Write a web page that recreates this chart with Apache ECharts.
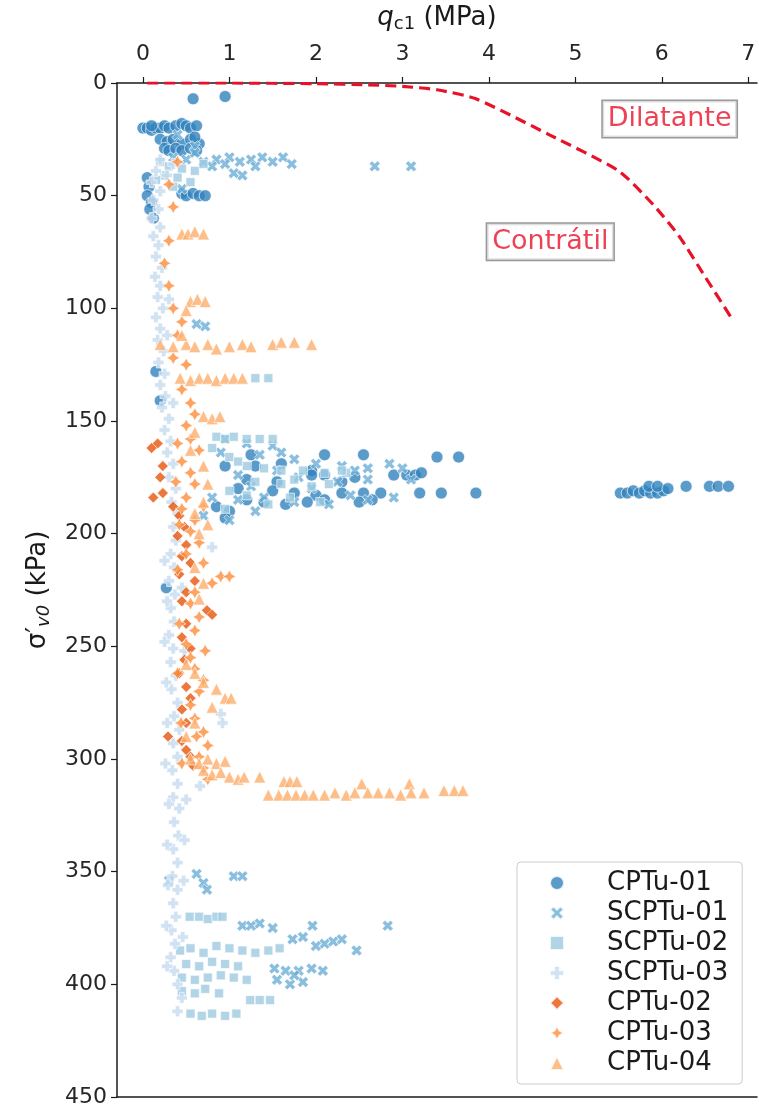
<html>
<meta charset="utf-8">
<head>
<script src="https://cdn.jsdelivr.net/npm/echarts@6/dist/echarts.min.js"></script>
<style>
  html, body { margin: 0; padding: 0; background: #fff; }
  #main { width: 759px; height: 1109px; }
</style>
</head>
<body>
<div id="main"></div>
<script type="text/javascript">
// nomes das sondagens (ordem da legenda)
var names = ['CPTu-01', 'SCPTu-01', 'SCPTu-02', 'SCPTu-03', 'CPTu-02', 'CPTu-03', 'CPTu-04'];
var colors = ['#3182bd', '#6baed6', '#9ecae1', '#c6dbef', '#e6550d', '#fd8d3c', '#fdae6b'];
var xTicks = [0, 1, 2, 3, 4, 5, 6, 7];

// [qc1 (MPa), sigma'v0 (kPa)]
var cptu01 = [
  [0.58,7],[0.95,6],
  [0.0,20],[0.05,20],[0.1,21],[0.15,20],[0.2,20],[0.25,19],[0.3,20],[0.38,19],[0.45,18],[0.5,19],[0.55,20],[0.62,19],[0.1,19],
  [0.2,25],[0.28,26],[0.35,25],[0.45,27],[0.55,25],[0.65,27],[0.6,24],
  [0.25,29],[0.3,30],[0.38,29],[0.45,30],[0.55,29],[0.62,30],
  [0.05,42],[0.07,46],[0.05,50],[0.1,53],[0.08,56],[0.12,60],
  [0.45,49],[0.5,50],[0.58,49],[0.65,50],[0.72,50],
  [0.15,128],[0.2,141],[0.27,224],
  [1.25,165],[2.1,165],[2.55,165],[3.4,166],[3.65,166],
  [0.95,170],[1.3,170],[1.6,169],[1.95,172],
  [1.95,174],[2.1,174],[2.45,175],[2.9,174],[3.05,174],[3.15,174],[3.22,173],[1.2,176],[1.55,177],[2.3,177],
  [1.5,181],[1.75,182],[2.0,183],[2.3,182],[2.55,182],[2.75,182],[3.2,182],[3.45,182],[3.85,182],[1.1,180],
  [1.2,185],[1.4,186],[1.65,187],[1.9,186],[2.1,185],[2.5,186],[2.65,185],[0.85,188],[1.0,190],[0.95,193],
  [5.52,182],[5.6,182],[5.67,181],[5.74,182],[5.8,181],[5.87,182],[5.95,182],[6.02,181],[5.85,179],[5.95,179],
  [6.07,180],[6.28,179],[6.55,179],[6.65,179],[6.77,179]
];
var scptu01 = [
  [0.4,23],[0.6,28],[0.35,33],[0.5,34],[0.7,35],[0.85,34],[1.0,33],[1.12,35],[1.25,34],[1.38,33],[1.5,35],[1.62,33],
  [1.72,36],[1.3,37],[0.8,37],[2.68,37],[3.1,37],[1.05,40],[1.15,41],[0.45,47],[0.6,31],[0.95,36],
  [0.62,107],[0.72,108],
  [0.95,158],[1.2,160],[1.5,161],[0.9,164],[1.35,165],[1.75,167],[2.0,169],[2.3,170],[2.6,171],[2.85,169],[3.0,171],
  [1.1,174],[1.8,175],[2.25,177],[2.6,176],[0.8,184],[1.1,185],[1.4,184],[1.75,186],[2.15,187],[2.6,185],[2.9,184],
  [0.7,192],[1.0,194],[1.3,190],[1.55,172],[2.45,172],[1.25,179],[1.95,180],[2.4,183],[3.1,176],[1.6,164],
  [0.62,351],[0.7,355],[0.74,358],[1.05,352],[1.15,352],[0.3,354],
  [1.15,374],[1.25,374],[1.35,373],[1.5,375],[1.96,374],[2.83,374],
  [1.73,380],[1.85,379],[2.1,382],[2.2,381],[2.3,380],[2.47,385],[2.0,383],
  [1.52,393],[1.65,394],[1.8,394],[1.95,393],[2.08,394],[1.55,398],[1.7,400],[1.85,399],[1.75,396]
];
var scptu02 = [
  [0.2,35],[0.3,37],[0.45,38],[0.6,39],[0.25,41],[0.4,42],[0.55,44],[0.35,46],[0.7,36],[0.15,43],
  [1.3,131],[1.45,131],
  [0.85,157],[0.95,158],[1.05,157],[1.2,158],[1.35,158],[1.5,158],[0.8,162],[1.0,166],[1.2,170],[1.4,171],[1.6,172],
  [1.85,172],[2.1,173],[2.35,173],[1.3,177],[1.6,178],[1.95,179],[1.0,181],[1.45,187],[0.95,189],[2.3,172],
  [1.1,168],[1.75,176],[2.15,178],[1.2,183],[1.7,184],[2.05,186],
  [0.54,370],[0.65,370],[0.75,371],[0.85,370],[0.92,370],
  [0.43,385],[0.55,384],[0.7,386],[0.85,383],[1.0,384],[1.15,385],[1.3,386],[1.45,385],[1.58,384],
  [0.5,391],[0.65,392],[0.8,390],[0.95,391],[1.1,392],
  [0.45,397],[0.6,398],[0.75,397],[0.9,396],[1.05,397],[1.2,398],
  [0.45,403],[0.6,404],[0.72,402],[0.88,404],[1.24,407],[1.35,407],[1.47,407],
  [0.55,413],[0.68,414],[0.8,413],[0.95,414],[1.08,413]
];
var scptu03 = [
  [0.2,34],[0.35,36],[0.15,39],[0.28,41],[0.1,44],[0.2,48],[0.12,52],[0.18,56],[0.1,60],[0.2,64],[0.12,68],[0.18,72],
  [0.15,77],[0.22,82],[0.14,86],[0.2,90],[0.17,95],[0.23,100],[0.15,104],[0.2,109],[0.17,114],[0.24,119],[0.18,124],
  [0.25,129],[0.2,134],[0.26,139],[0.22,144],[0.3,149],[0.25,154],[0.32,159],[0.28,164],[0.35,169],[0.3,175],[0.38,180],
  [0.33,186],[0.4,191],[0.35,197],[0.8,206],[0.38,203],[0.32,209],[0.36,215],[0.3,221],[0.37,227],[0.32,233],[0.36,239],
  [0.3,245],[0.35,251],[0.32,257],[0.38,263],[0.33,269],[0.4,275],[0.9,280],[0.92,284],[0.36,281],[0.42,287],[0.35,293],
  [0.4,299],[0.34,305],[0.66,312],[0.4,311],[0.35,317],[0.42,322],[0.36,328],[0.41,334],[0.35,340],[0.4,346],[0.34,352],
  [0.4,358],[0.35,364],[0.38,370],[0.33,376],[0.37,382],[0.32,388],[0.36,394],[0.4,400],[0.45,406],[0.4,412],
  [0.25,212],[0.28,230],[0.25,248],[0.27,266],[0.28,284],[0.26,302],[0.3,320],[0.28,338],[0.29,356],[0.27,374],[0.28,392],
  [0.45,224],[0.48,252],[0.5,318],[0.48,336],[0.47,354],[0.46,379],[0.3,96],[0.28,112],[0.35,142]
];
var cptu02 = [
  [0.17,160],[0.1,162],[0.23,170],[0.2,175],[0.23,182],[0.12,184],[0.35,188],[0.42,192],[0.48,197],[0.4,201],[0.5,205],
  [0.45,210],[0.55,213],[0.42,218],[0.6,221],[0.5,226],[0.45,230],[0.74,234],[0.8,236],[0.5,240],[0.45,246],[0.55,251],
  [0.48,256],[0.42,262],[0.5,268],[0.55,273],[0.45,278],[0.5,284],[0.29,290],[0.45,292],[0.5,296],[0.55,299],[0.58,303]
];
var cptu03 = [
  [0.4,35],[0.3,45],[0.35,55],[0.3,70],[0.25,80],[0.3,90],[0.35,100],[0.45,106],[0.4,112],[0.35,122],[0.5,125],[0.45,136],
  [0.55,142],[0.6,147],[0.5,152],[0.55,158],[0.65,163],[0.45,168],[0.55,173],[0.6,178],[0.5,184],[0.45,189],[0.6,194],
  [0.55,199],[0.65,204],[0.5,209],[0.7,213],[0.9,219],[1.0,219],[0.8,222],[0.6,226],[0.55,231],[0.65,237],[0.6,243],
  [0.5,249],[0.55,255],[0.6,260],[0.7,265],[0.65,270],[0.55,276],[0.6,282],[0.7,288],[0.75,294],[0.65,299],[0.7,304],[0.75,309],
  [0.4,160],[0.38,177],[0.42,196],[0.4,216],[0.42,240],[0.4,262],[0.44,284],[0.45,302],[0.7,188],[0.72,252],[0.62,290]
];
var cptu04 = [
  [0.45,67],[0.52,67],[0.6,66],[0.7,67],
  [0.55,97],[0.63,96],[0.72,97],[0.5,101],
  [0.2,116],[0.35,117],[0.5,116],[0.6,117],[0.75,116],[0.85,118],[1.0,117],[1.15,116],[1.25,117],[1.5,116],[1.6,115],
  [1.75,115],[1.95,116],[0.45,112],
  [0.43,131],[0.55,132],[0.65,131],[0.75,131],[0.85,132],[0.95,131],[1.05,131],[1.15,131],
  [0.7,148],[0.8,149],[0.89,148],[0.6,155],
  [0.55,163],[0.7,170],[0.75,178],[0.7,186],[0.6,191],[0.75,196],[0.65,200],
  [0.6,215],[0.7,222],[0.65,229],
  [0.5,258],[0.6,262],[0.7,266],[0.85,269],[0.95,273],[1.02,273],[0.8,277],[0.6,284],[0.5,290],
  [0.55,300],[0.65,302],[0.75,300],[0.85,302],[0.95,301],[0.7,305],[0.8,307],[0.9,306],[1.0,308],[1.1,309],[1.17,308],
  [1.35,308],[1.63,310],[1.7,310],[1.78,310],[2.53,311],[3.08,311],
  [1.45,316],[1.57,316],[1.67,316],[1.77,316],[1.87,316],[1.97,316],[2.1,316],[2.22,315],[2.35,316],[2.45,315],
  [2.6,315],[2.72,315],[2.85,315],[2.98,316],[3.1,315],[3.25,315],[3.48,314],[3.6,314],[3.7,314]
];

// limite contrátil / dilatante
var limite = [[0.05,0],[1,0],[2,0.3],[2.6,0.8],[3,1.5],[3.4,3],[3.85,7],[4.7,23],[5.5,39],[5.9,54],[6.2,68],[6.5,86],[6.8,104]];
var rotulos = [[6.09,16,'Dilatante'],[4.71,70.5,'Contrátil']];

var allData = [cptu01, scptu01, scptu02, scptu03, cptu02, cptu03, cptu04];
var symbols = [
  'circle',
  'path://M2.5,0L5,2.5L7.5,0L10,2.5L7.5,5L10,7.5L7.5,10L5,7.5L2.5,10L0,7.5L2.5,5L0,2.5Z',
  'rect',
  'path://M3,0H7V3H10V7H7V10H3V7H0V3H3Z',
  'diamond',
  'path://M5,0L6.77,3.23L10,5L6.77,6.77L5,10L3.23,6.77L0,5L3.23,3.23Z',
  'triangle'
];
var sizes = [12, 11, 9, 11, 11, 13, 12];

var FONT = 'DejaVu Sans';
var INK = '#1a1a1a';
var series = [];
for (var i = 0; i < names.length; i++) {
  series.push({
    name: names[i],
    type: 'scatter',
    data: allData[i],
    symbol: symbols[i],
    symbolSize: sizes[i],
    itemStyle: { color: colors[i], borderColor: '#ffffff', borderWidth: 0.8 },
    z: 2
  });
}
series.push({
  name: 'limite',
  type: 'line',
  data: limite,
  showSymbol: false,
  smooth: 0.2,
  lineStyle: { color: '#e8112a', width: 3.2, type: [11, 6] },
  z: 5
});
series.push({
  name: 'rotulos',
  type: 'scatter',
  data: rotulos,
  symbolSize: 0,
  z: 6,
  label: {
    show: true,
    position: 'inside',
    formatter: function (p) { return p.value[2]; },
    color: '#e8112a',
    fontFamily: FONT,
    fontSize: 27,
    backgroundColor: 'rgba(255,255,255,0.85)',
    borderColor: '#808080',
    borderWidth: 1.5,
    padding: [5, 5, 4, 5]
  }
});

var myChart = echarts.init(document.getElementById('main'));
var option = {
  animation: false,
  backgroundColor: '#ffffff',
  textStyle: { fontFamily: FONT },
  grid: { left: 117, top: 80, right: 2, bottom: 12, containLabel: false },
  legend: {
    data: names,
    orient: 'vertical',
    left: 517,
    top: 862,
    padding: [8, 14, 8, 32],
    itemWidth: 14,
    itemHeight: 14,
    itemGap: 4,
    backgroundColor: 'rgba(255,255,255,0.85)',
    borderColor: '#cccccc',
    borderWidth: 1,
    borderRadius: 4,
    textStyle: { fontFamily: FONT, fontSize: 26, color: INK, padding: [0, 0, 0, 38] }
  },
  xAxis: [{
    type: 'value',
    position: 'top',
    min: -0.3,
    max: 7.1,
    name: '{i|q}{s|c1} (MPa)',
    nameLocation: 'middle',
    nameGap: 50,
    nameTextStyle: {
      fontFamily: FONT, fontSize: 26, color: INK,
      rich: {
        i: { fontFamily: FONT, fontSize: 26, fontStyle: 'italic', color: INK },
        s: { fontFamily: FONT, fontSize: 18, verticalAlign: 'bottom', padding: [12, 0, 0, 0], color: INK }
      }
    },
    axisLine: { show: true, lineStyle: { color: INK, width: 1.5 } },
    axisTick: { show: true, length: 6, customValues: xTicks, lineStyle: { color: INK, width: 1.2 } },
    axisLabel: { customValues: xTicks, fontFamily: FONT, fontSize: 22, color: '#262626', margin: 18 },
    splitLine: { show: false }
  }, {
    type: 'value',
    position: 'bottom',
    min: -0.3,
    max: 7.1,
    axisLine: { show: true, onZero: false, lineStyle: { color: INK, width: 1.5 } },
    axisTick: { show: false },
    axisLabel: { show: false },
    splitLine: { show: false }
  }],
  yAxis: {
    type: 'value',
    inverse: true,
    min: 0,
    max: 450,
    interval: 50,
    name: "σ′{s|v0} (kPa)",
    nameLocation: 'middle',
    nameGap: 64,
    nameRotate: 90,
    nameTextStyle: {
      fontFamily: FONT, fontSize: 26, color: INK,
      rich: {
        s: { fontFamily: FONT, fontSize: 18, fontStyle: 'italic', padding: [12, 0, 0, 0], color: INK }
      }
    },
    axisLine: { show: true, onZero: false, lineStyle: { color: INK, width: 1.5 } },
    axisTick: { show: true, length: 6, lineStyle: { color: INK, width: 1.2 } },
    axisLabel: { fontFamily: FONT, fontSize: 22, color: '#262626', margin: 10 },
    splitLine: { show: false }
  },
  series: series
};
myChart.setOption(option);
</script>
</body>
</html>
